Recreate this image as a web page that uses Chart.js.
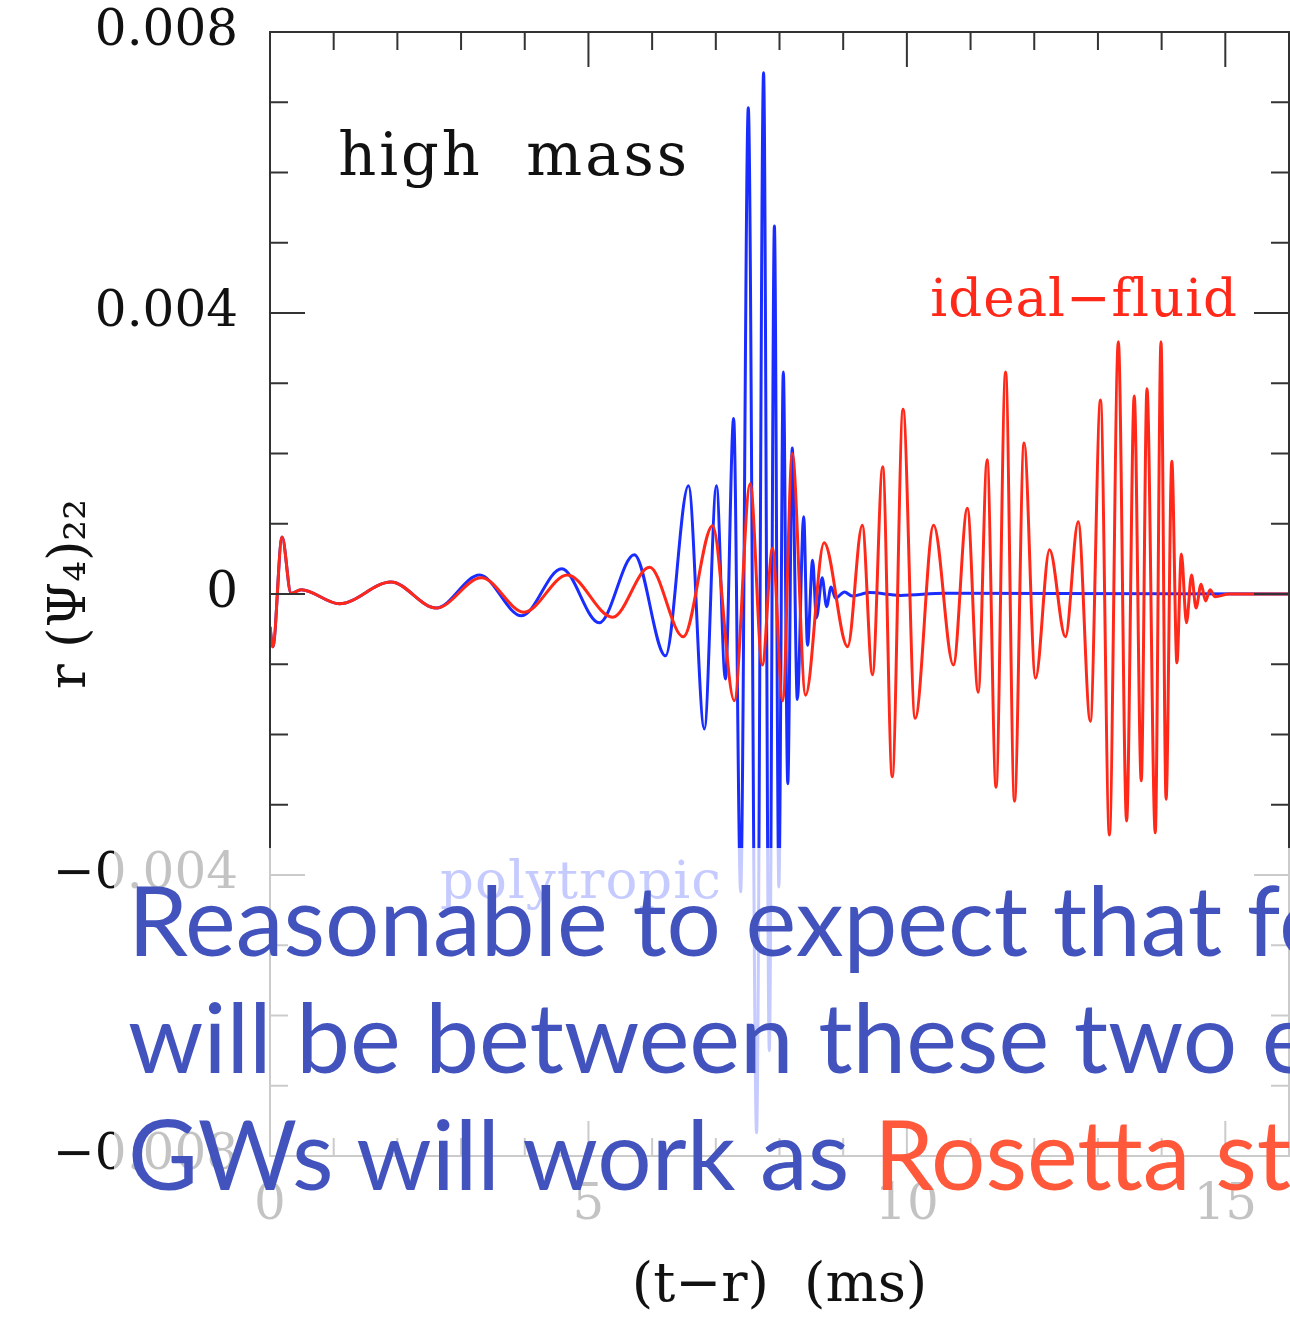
<!DOCTYPE html>
<html>
<head>
<meta charset="utf-8">
<script src="https://cdn.jsdelivr.net/npm/chart.js@4.4.0/dist/chart.umd.min.js"></script>
<style>
  html, body { margin: 0; padding: 0; background: #fff; overflow: hidden; }
  #wrap { position: relative; width: 1290px; height: 1320px; }
  #shade { position: absolute; left: 114px; top: 848px; width: 1176px; height: 392px; background: rgba(255,255,255,0.75); }
  #note { position: absolute; left: 128px; top: 860px; font-family: Lato, sans-serif; font-size: 96px; line-height: 117px; color: rgb(66,83,190); white-space: nowrap; }
  #note .red { color: rgb(255,88,58); }
</style>
</head>
<body>
<div id="wrap">
  <canvas id="chart" width="1290" height="1320"></canvas>
  <div id="shade"></div>
  <div id="note">
    <div>Reasonable to expect that for</div>
    <div>will be between these two extremes</div>
    <div>GWs will work as <span class="red">Rosetta stone</span></div>
  </div>
</div>
<script>
// time (ms) and r(Psi4)_22, at the turning points of each curve
let polyTime = [0, 0.044, 0.19, 0.33, 0.49, 1.09, 1.90, 2.61, 3.29, 3.95, 4.58, 5.17, 5.72, 6.21,
  6.57, 6.82, 7.01, 7.15, 7.28, 7.39, 7.51, 7.64, 7.75, 7.84, 7.92, 7.99, 8.06, 8.13, 8.20, 8.28,
  8.38, 8.44, 8.52, 8.58, 8.67, 8.74, 8.81, 8.88, 9.02, 9.14, 9.41, 9.9, 10.6, 16];
let polyAmp = [-0.00047, -0.00075, 0.00081, 0.00001, 0.00006, -0.00014, 0.00017, -0.00020, 0.00027,
  -0.00031, 0.00036, -0.00041, 0.00056, -0.00088, 0.00154, -0.00192, 0.00154, -0.00121, 0.00250,
  -0.00424, 0.00692, -0.00767, 0.00742, -0.00650, 0.00524, -0.00417, 0.00316, -0.00270, 0.00208,
  -0.00150, 0.00110, -0.00073, 0.00048, -0.00034, 0.00023, -0.00018, 0.00010, -0.00006, 0.00003,
  -0.00003, 0.00002, -0.00002, 0.00001, 0];

let idealTime = [0, 0.044, 0.19, 0.33, 0.49, 1.09, 1.90, 2.61, 3.32, 3.99, 4.67, 5.38, 5.96, 6.49,
  6.95, 7.29, 7.54, 7.73, 7.89, 8.05, 8.20, 8.41, 8.70, 9.07, 9.30, 9.46, 9.62, 9.77, 9.94, 10.13,
  10.42, 10.73, 10.95, 11.12, 11.26, 11.40, 11.55, 11.69, 11.84, 12.02, 12.24, 12.49, 12.69, 12.88,
  13.04, 13.18, 13.32, 13.45, 13.57, 13.68, 13.77, 13.90, 13.99, 14.07, 14.16, 14.24, 14.31, 14.39,
  14.47, 14.54, 14.62, 14.69, 14.76, 14.84, 15.06, 16];
let idealAmp = [-0.00047, -0.00075, 0.00081, 0.00001, 0.00006, -0.00014, 0.00017, -0.00020, 0.00023,
  -0.00026, 0.00027, -0.00033, 0.00038, -0.00061, 0.00097, -0.00152, 0.00157, -0.00101, 0.00065,
  -0.00152, 0.00200, -0.00144, 0.00073, -0.00075, 0.00098, -0.00115, 0.00181, -0.00260, 0.00263,
  -0.00177, 0.00098, -0.00101, 0.00122, -0.00140, 0.00191, -0.00275, 0.00316, -0.00295, 0.00215,
  -0.00120, 0.00063, -0.00061, 0.00103, -0.00181, 0.00276, -0.00343, 0.00359, -0.00323, 0.00282,
  -0.00266, 0.00292, -0.00340, 0.00359, -0.00292, 0.00189, -0.00098, 0.00057, -0.00041, 0.00027,
  -0.00020, 0.00014, -0.00010, 0.00006, -0.00004, 0, 0];

let yLabelEvery = 4;   // label every 0.004
let xLabelEvery = 5;   // label every 5 ms

const serif = 'DejaVu Serif';
const blue = 'rgb(25,45,255)';
const red = 'rgb(255,40,25)';

function pairs(ts, vs) {
  return ts.map((t, i) => ({x: t, y: vs[i]}));
}

function yLabel(v) {
  let k = Math.round(v * 1000);
  if (k % yLabelEvery !== 0) return '';
  if (k === 0) return '0';
  return (k / 1000).toFixed(3).replace('-', '\u2212');
}

// inward tick marks, frame and the in-plot labels
const framePlugin = {
  id: 'frame',
  afterDraw(chart) {
    const {ctx, chartArea: a, scales: {x, y}} = chart;
    ctx.save();
    ctx.strokeStyle = '#333';
    ctx.lineWidth = 2;
    ctx.strokeRect(a.left, a.top, a.right - a.left, a.bottom - a.top);
    ctx.beginPath();
    x.ticks.forEach(t => {
      let px = x.getPixelForValue(t.value);
      let len = Math.round(t.value) % xLabelEvery === 0 ? 35 : 18;
      ctx.moveTo(px, a.top); ctx.lineTo(px, a.top + len);
      ctx.moveTo(px, a.bottom); ctx.lineTo(px, a.bottom - len);
    });
    y.ticks.forEach(t => {
      let py = y.getPixelForValue(t.value);
      let len = Math.round(t.value * 1000) % yLabelEvery === 0 ? 35 : 18;
      ctx.moveTo(a.left, py); ctx.lineTo(a.left + len, py);
      ctx.moveTo(a.right, py); ctx.lineTo(a.right - len, py);
    });
    ctx.stroke();

    ctx.textBaseline = 'alphabetic';
    ctx.font = '59px "' + serif + '"';
    ctx.fillStyle = '#111';
    ctx.textAlign = 'left';
    ctx.letterSpacing = '3px';
    ctx.fillText('high  mass', x.getPixelForValue(1.07), y.getPixelForValue(0.00596));
    ctx.letterSpacing = '1px';

    ctx.font = '53px "' + serif + '"';
    ctx.fillStyle = red;
    ctx.textAlign = 'right';
    ctx.fillText('ideal\u2212fluid', x.getPixelForValue(15.2), y.getPixelForValue(0.00396));

    ctx.font = '53px "' + serif + '"';
    ctx.fillStyle = blue;
    ctx.textAlign = 'left';
    ctx.fillText('polytropic', x.getPixelForValue(2.67), y.getPixelForValue(-0.00433));
    ctx.restore();
  }
};

new Chart(document.getElementById('chart'), {
  type: 'line',
  data: {
    datasets: [
      {label: 'ideal-fluid', data: pairs(idealTime, idealAmp), borderColor: red, borderWidth: 3,
       pointRadius: 0, cubicInterpolationMode: 'monotone', fill: false},
      {label: 'polytropic', data: pairs(polyTime, polyAmp), borderColor: blue, borderWidth: 3,
       pointRadius: 0, cubicInterpolationMode: 'monotone', fill: false}
    ]
  },
  options: {
    responsive: false,
    animation: false,
    devicePixelRatio: 1,
    layout: {padding: {top: 32, right: 1, bottom: 0, left: 0}},
    plugins: {legend: {display: false}, tooltip: {enabled: false}},
    scales: {
      x: {
        type: 'linear', min: 0, max: 16,
        afterFit: s => { s.height = 164; s.paddingLeft = 0; s.paddingRight = 0; },
        grid: {display: false, drawTicks: false},
        border: {display: false},
        ticks: {stepSize: 1, autoSkip: false, maxRotation: 0, padding: 20, color: '#111',
                font: {family: serif, size: 50},
                callback: v => (Math.round(v) % xLabelEvery === 0 ? String(v) : '')},
        title: {display: true, text: '(t\u2212r)  (ms)', color: '#111',
                font: {family: serif, size: 55}, padding: {top: 0, bottom: 0}}
      },
      y: {
        type: 'linear', min: -0.008, max: 0.008,
        afterFit: s => { s.width = 270; s.paddingTop = 0; s.paddingBottom = 0; },
        grid: {display: false, drawTicks: false},
        border: {display: false},
        ticks: {stepSize: 0.001, autoSkip: false, padding: 32, color: '#111',
                font: {family: serif, size: 50}, callback: yLabel},
        title: {display: true, text: 'r (\u03A8\u2084)\u2082\u2082', color: '#111',
                font: {family: serif, size: 52}, padding: {top: 40, bottom: 0}}
      }
    }
  },
  plugins: [framePlugin]
});
</script>
</body>
</html>
